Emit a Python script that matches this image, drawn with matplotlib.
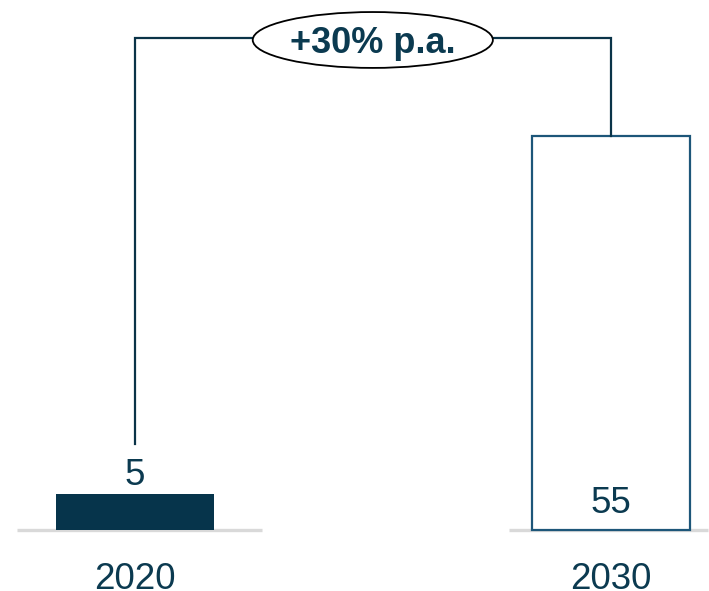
import matplotlib
matplotlib.use("Agg")
import matplotlib.pyplot as plt
from matplotlib.patches import Ellipse

years = ["2020", "2030"]
values = [5, 55]
growth_label = "+30% p.a."

NAVY = "#06344b"
OUTLINE = "#1d5679"
TEXT = "#0b3a50"
GRID = "#d9d9d9"

plt.rcParams["font.family"] = ["Liberation Sans", "DejaVu Sans"]

fig = plt.figure(figsize=(7.09, 5.91), dpi=100)
ax = fig.add_axes([0, 0, 1, 1])
ax.set_xlim(-0.284, 1.207)
ax.set_ylim(-8.515, 73.98)
ax.axis("off")

x = [0, 1]
bar_w = 0.332

# Filled bar for the first year, outlined bar for the forecast year
ax.bar(x[0], values[0], width=bar_w, color=NAVY, linewidth=0, zorder=2)
ax.bar(x[1], values[1], width=bar_w, facecolor="white", edgecolor=OUTLINE,
       linewidth=1.6, zorder=2)

# Short grey baselines under each bar
base_extent = [(-0.248, 0.267), (-0.213, 0.205)]
for xi, (l, r) in zip(x, base_extent):
    ax.plot([xi + l, xi + r], [0, 0], color=GRID, lw=2.4, solid_capstyle="butt", zorder=1)

# Value labels
ax.annotate(str(values[0]), (x[0], values[0]), xytext=(0, 6.5), textcoords="offset points",
            ha="center", va="baseline", fontsize=26.5, color=TEXT)
ax.annotate(str(values[1]), (x[1], 0), xytext=(0, 12.2), textcoords="offset points",
            ha="center", va="baseline", fontsize=26.5, color=TEXT)

# Year labels below the baseline
for xi, yr in zip(x, years):
    ax.annotate(yr, (xi, 0), xytext=(0, -42.5), textcoords="offset points",
                ha="center", va="baseline", fontsize=26.5, color=TEXT)

# Growth bracket connecting the two bars
top_y = 68.7
ax.plot([x[0], x[0], x[1], x[1]], [12.0, top_y, top_y, values[1]],
        color="#0a3348", lw=1.6, solid_joinstyle="miter", zorder=3)

ell = Ellipse((0.5, 68.4), width=0.505, height=7.8, facecolor="white",
              edgecolor="black", lw=1.3, zorder=4)
ax.add_patch(ell)
ax.text(0.5, 68.4, growth_label, ha="center", va="center_baseline", fontsize=26,
        fontweight="bold", color=TEXT, zorder=5)

fig.savefig("out.png", dpi=100)
